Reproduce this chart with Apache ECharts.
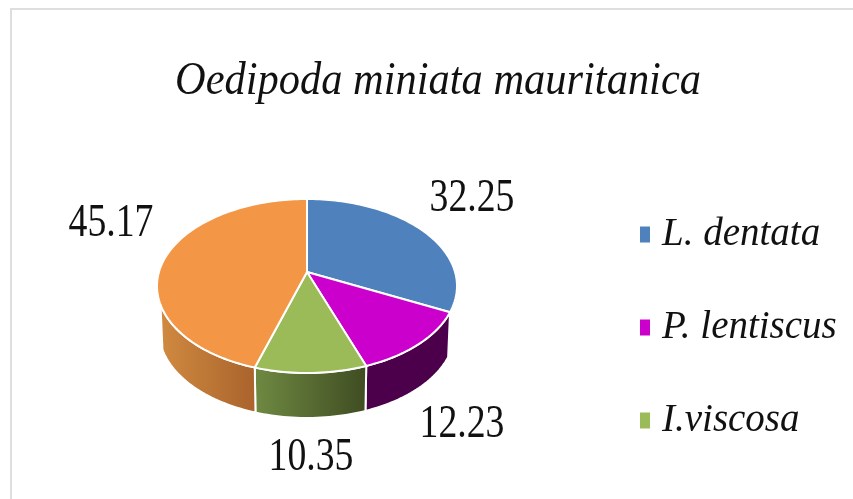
<!DOCTYPE html>
<html>
<head>
<meta charset="utf-8">
<style>
  html, body { margin: 0; padding: 0; background: #fff; }
  #chart { width: 853px; height: 499px; }
</style>
<script src="https://cdn.jsdelivr.net/npm/echarts@6/dist/echarts.min.js"></script>
</head>
<body>
<div id="chart"></div>
<script>
const titleText = 'Oedipoda miniata mauritanica';
const categories = ['L. dentata', 'P. lentiscus', 'I.viscosa', 'Other'];
const values = [32.25, 12.23, 10.35, 45.17];
const legendNames = ['L. dentata', 'P. lentiscus', 'I.viscosa'];

const colors = ['#4f81bd', '#cc00cc', '#9bbb59', '#f39645'];
const wallColors = [['#3a5f8c', '#3a5f8c'], ['#4c004c', '#4c004c'], ['#6f8a42', '#3f4c22'], ['#d08a40', '#a9632c']];
const wallLimits = [-0.29, -0.29, -0.29, -0.2];
const labelPos = [[472, 199], [462, 425], [311, 458], [111, 224]];

// tilted disc: ellipses for top and bottom, k shifts the pie centre upward
const top3d = { cx: 307, cy: 286, rx: 150, ry: 87 };
const bottom3d = { cx: 307, cy: 331, rx: 148, ry: 87 };
const k = 0.16;
const font = 'Liberation Serif';

const total = values.reduce((a, b) => a + b, 0);
const starts = values.map((v, i) => values.slice(0, i).reduce((a, b) => a + b, 0));

// angle clockwise from 12 o'clock -> point in the unit disc after perspective
function project(theta) {
  const x = Math.sin(theta), y = Math.cos(theta);
  const d = 1 + k * y;
  return [x * Math.sqrt(1 - k * k) / d, (y + k) / d];
}
function toScreen(p, e) {
  return [e.cx + e.rx * p[0], e.cy - e.ry * p[1]];
}
function arc(a0, a1) {
  const n = Math.max(2, Math.ceil((a1 - a0) * 40));
  const pts = [];
  for (let i = 0; i <= n; i++) pts.push(project(a0 + (a1 - a0) * i / n));
  return pts;
}
function sliceAngles(i) {
  return [starts[i] / total * Math.PI * 2, (starts[i] + values[i]) / total * Math.PI * 2];
}

function renderWall(params, api) {
  const i = params.dataIndex;
  const [a0, a1] = sliceAngles(i);
  const pts = arc(a0, a1).filter(p => p[1] < wallLimits[i]);
  if (pts.length < 2) return { type: 'group', children: [] };
  const upper = pts.map(p => toScreen(p, top3d));
  const lower = pts.map(p => toScreen(p, bottom3d)).reverse();
  return {
    type: 'polygon',
    shape: { points: upper.concat(lower) },
    style: {
      fill: new echarts.graphic.LinearGradient(0, 0, 1, 0, [
        { offset: 0, color: wallColors[i][0] },
        { offset: 1, color: wallColors[i][1] }
      ]),
      stroke: '#fff',
      lineWidth: 2
    }
  };
}

function renderTop(i) {
  return function (params, api) {
    const [a0, a1] = sliceAngles(i);
    const pts = arc(a0, a1).map(p => toScreen(p, top3d));
    pts.push(toScreen([0, k], top3d));
    return {
      type: 'group',
      children: [
        {
          type: 'polygon',
          shape: { points: pts },
          style: { fill: colors[i], stroke: '#fff', lineWidth: 2, lineJoin: 'round' }
        },
        {
          type: 'text',
          x: labelPos[i][0],
          y: labelPos[i][1],
          scaleX: 0.82,
          z2: 10,
          style: {
            text: String(api.value(0)),
            fill: '#111',
            font: '46px "' + font + '"',
            align: 'center',
            verticalAlign: 'middle'
          }
        }
      ]
    };
  };
}

const chart = echarts.init(document.getElementById('chart'), null, { renderer: 'canvas' });
chart.setOption({
  animation: false,
  backgroundColor: '#fff',
  graphic: [
    {
      type: 'polyline',
      shape: { points: [[11, 499], [11, 9], [853, 9]] },
      style: { stroke: '#dedede', lineWidth: 2, fill: null }
    },
    {
      type: 'text',
      x: 438,
      y: 82,
      scaleX: 0.923,
      style: {
        text: titleText,
        fill: '#111',
        font: 'italic 46px "' + font + '"',
        align: 'center',
        verticalAlign: 'middle'
      }
    }
  ],
  legend: {
    data: legendNames,
    orient: 'vertical',
    left: 640,
    top: 215,
    padding: 0,
    itemGap: 54,
    itemWidth: 10,
    itemHeight: 16,
    icon: 'rect',
    selectedMode: false,
    textStyle: {
      fontFamily: font,
      fontStyle: 'italic',
      fontSize: 39,
      color: '#111',
      padding: [0, 0, 0, 7]
    }
  },
  series: [
    {
      type: 'custom',
      coordinateSystem: 'none',
      silent: true,
      data: values.map(v => [v]),
      renderItem: renderWall
    }
  ].concat(categories.map((name, i) => ({
    type: 'custom',
    name: name,
    coordinateSystem: 'none',
    silent: true,
    z: 3,
    itemStyle: { color: colors[i] },
    data: [[values[i]]],
    renderItem: renderTop(i)
  })))
});
</script>
</body>
</html>
